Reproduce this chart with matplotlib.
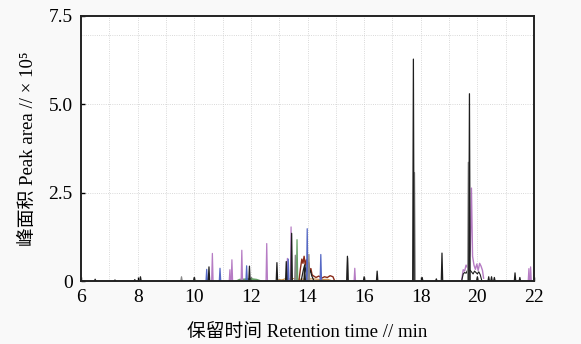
import matplotlib
matplotlib.use("Agg")
import matplotlib.pyplot as plt

plt.rcParams['font.family'] = ['Liberation Serif', 'Noto Sans CJK SC']

# single spikes: retention time (min), peak area (x10^5), colour key
black_t = [6.5, 7.2, 7.9, 8.1, 10.0, 10.52, 11.95, 12.92, 13.25, 13.44, 13.9,
           15.41, 16.0, 16.46, 17.74, 18.05, 18.55, 18.75, 19.72, 20.0, 20.4,
           20.5, 20.6, 21.33, 21.5]
black_h = [0.05, 0.03, 0.04, 0.12, 0.1, 0.4, 0.42, 0.52, 0.55, 1.35, 0.45,
           0.7, 0.12, 0.28, 6.28, 0.1, 0.06, 0.79, 5.3, 0.12, 0.12,
           0.12, 0.1, 0.23, 0.1]
gray_t = [9.55, 13.57, 14.05, 15.42, 17.78, 19.68]
gray_h = [0.12, 0.73, 0.75, 0.65, 3.07, 3.36]
purple_t = [10.64, 11.26, 11.33, 11.68, 12.56, 13.29, 13.42, 15.67, 21.82, 21.88]
purple_h = [0.78, 0.32, 0.6, 0.87, 1.06, 0.64, 1.53, 0.36, 0.35, 0.4]
blue_t = [10.44, 10.91, 11.85, 13.32, 13.99, 14.47]
blue_h = [0.33, 0.36, 0.43, 0.62, 1.48, 0.75]
green_t = [13.63]
green_h = [1.17]

# noisy traces
purple_hump_t = [19.45, 19.5, 19.55, 19.6, 19.65, 19.7, 19.75, 19.79, 19.83,
                 19.88, 19.93, 19.98, 20.03, 20.08, 20.13, 20.18, 20.22]
purple_hump_h = [0.05, 0.32, 0.28, 0.45, 0.38, 0.55, 0.9, 2.63, 0.7,
                 0.45, 0.33, 0.48, 0.3, 0.5, 0.42, 0.3, 0.08]
black_hump_t = [19.45, 19.5, 19.55, 19.6, 19.65, 19.75, 19.8, 19.85, 19.9,
                19.95, 20.0, 20.05, 20.1, 20.15]
black_hump_h = [0.02, 0.2, 0.24, 0.22, 0.3, 0.3, 0.25, 0.2, 0.28,
                0.24, 0.2, 0.26, 0.18, 0.03]
brown_t = [13.7, 13.75, 13.8, 13.84, 13.88, 13.92, 13.96, 14.0, 14.04, 14.08,
           14.12, 14.16, 14.2, 14.3, 14.4, 14.5, 14.6, 14.7, 14.8, 14.9, 14.95]
brown_h = [0.02, 0.35, 0.62, 0.5, 0.7, 0.45, 0.6, 0.4, 0.52, 0.3,
           0.35, 0.18, 0.15, 0.1, 0.14, 0.08, 0.12, 0.1, 0.15, 0.12, 0.02]
blackh_t = [13.78, 13.85, 13.9, 13.95, 14.0, 14.05, 14.1, 14.15, 14.22]
blackh_h = [0.02, 0.3, 0.45, 0.25, 0.4, 0.2, 0.3, 0.15, 0.02]
orange_t = [12.9, 13.0, 13.1, 13.2, 13.3, 13.5, 13.7, 14.2, 14.5, 14.7, 14.9]
orange_h = [0.0, 0.04, 0.03, 0.06, 0.05, 0.07, 0.05, 0.06, 0.04, 0.05, 0.0]
green_base_t = [11.5, 11.6, 11.8, 12.0, 12.2, 12.35]
green_base_h = [0.0, 0.04, 0.05, 0.06, 0.04, 0.0]

colors = {'black': '#1e1e1e', 'gray': '#8a8a8a', 'purple': '#b67cc4',
          'blue': '#5568c4', 'green': '#66a066', 'brown': '#8a2a18',
          'orange': '#c8904a'}

fig = plt.figure(figsize=(5.81, 3.44), dpi=100, facecolor='#f9f9f9')
ax = fig.add_axes([81/581, 1-281/344, 453/581, 265/344])
ax.set_facecolor('white')

def spikes(ts, hs, c, w=0.025, lw=0.9):
    for t, h in zip(ts, hs):
        ax.plot([t - w, t, t + w], [0, h, 0], color=c, lw=lw)

ax.plot(green_base_t, green_base_h, color=colors['green'], lw=1.2)
ax.plot(orange_t, orange_h, color=colors['orange'], lw=0.8)
ax.plot(brown_t, brown_h, color=colors['brown'], lw=1.0)
ax.plot(blackh_t, blackh_h, color=colors['black'], lw=0.9)
ax.plot(purple_hump_t, purple_hump_h, color=colors['purple'], lw=1.0)
ax.plot(black_hump_t, black_hump_h, color=colors['black'], lw=0.8)
spikes(purple_t, purple_h, colors['purple'])
spikes(blue_t, blue_h, colors['blue'])
spikes(green_t, green_h, colors['green'])
spikes(gray_t, gray_h, colors['gray'])
spikes(black_t, black_h, colors['black'])

ax.set_xlim(6, 22)
ax.set_ylim(0, 7.5)
ax.set_xticks(range(6, 23, 2))
ax.set_yticks([0, 2.5, 5.0, 7.5])
ax.set_yticklabels(['0', '2.5', '5.0', '7.5'])
for x in range(7, 22):
    ax.axvline(x, color='#cccccc', lw=0.6, ls=':', zorder=0)
for y in [2.5, 5.0, 6.95]:
    ax.axhline(y, color='#cccccc', lw=0.6, ls=':', zorder=0)

for s in ax.spines.values():
    s.set_linewidth(1.4)
    s.set_color('#222222')
ax.tick_params(direction='in', length=3, width=1, labelsize=14, pad=6)

ax.set_xlabel('保留时间 Retention time // min', fontsize=13.5, labelpad=13)
ax.set_ylabel('峰面积 Peak area // × 10⁵', fontsize=13.5, labelpad=8)

fig.savefig('out.png', dpi=100, facecolor=fig.get_facecolor())
